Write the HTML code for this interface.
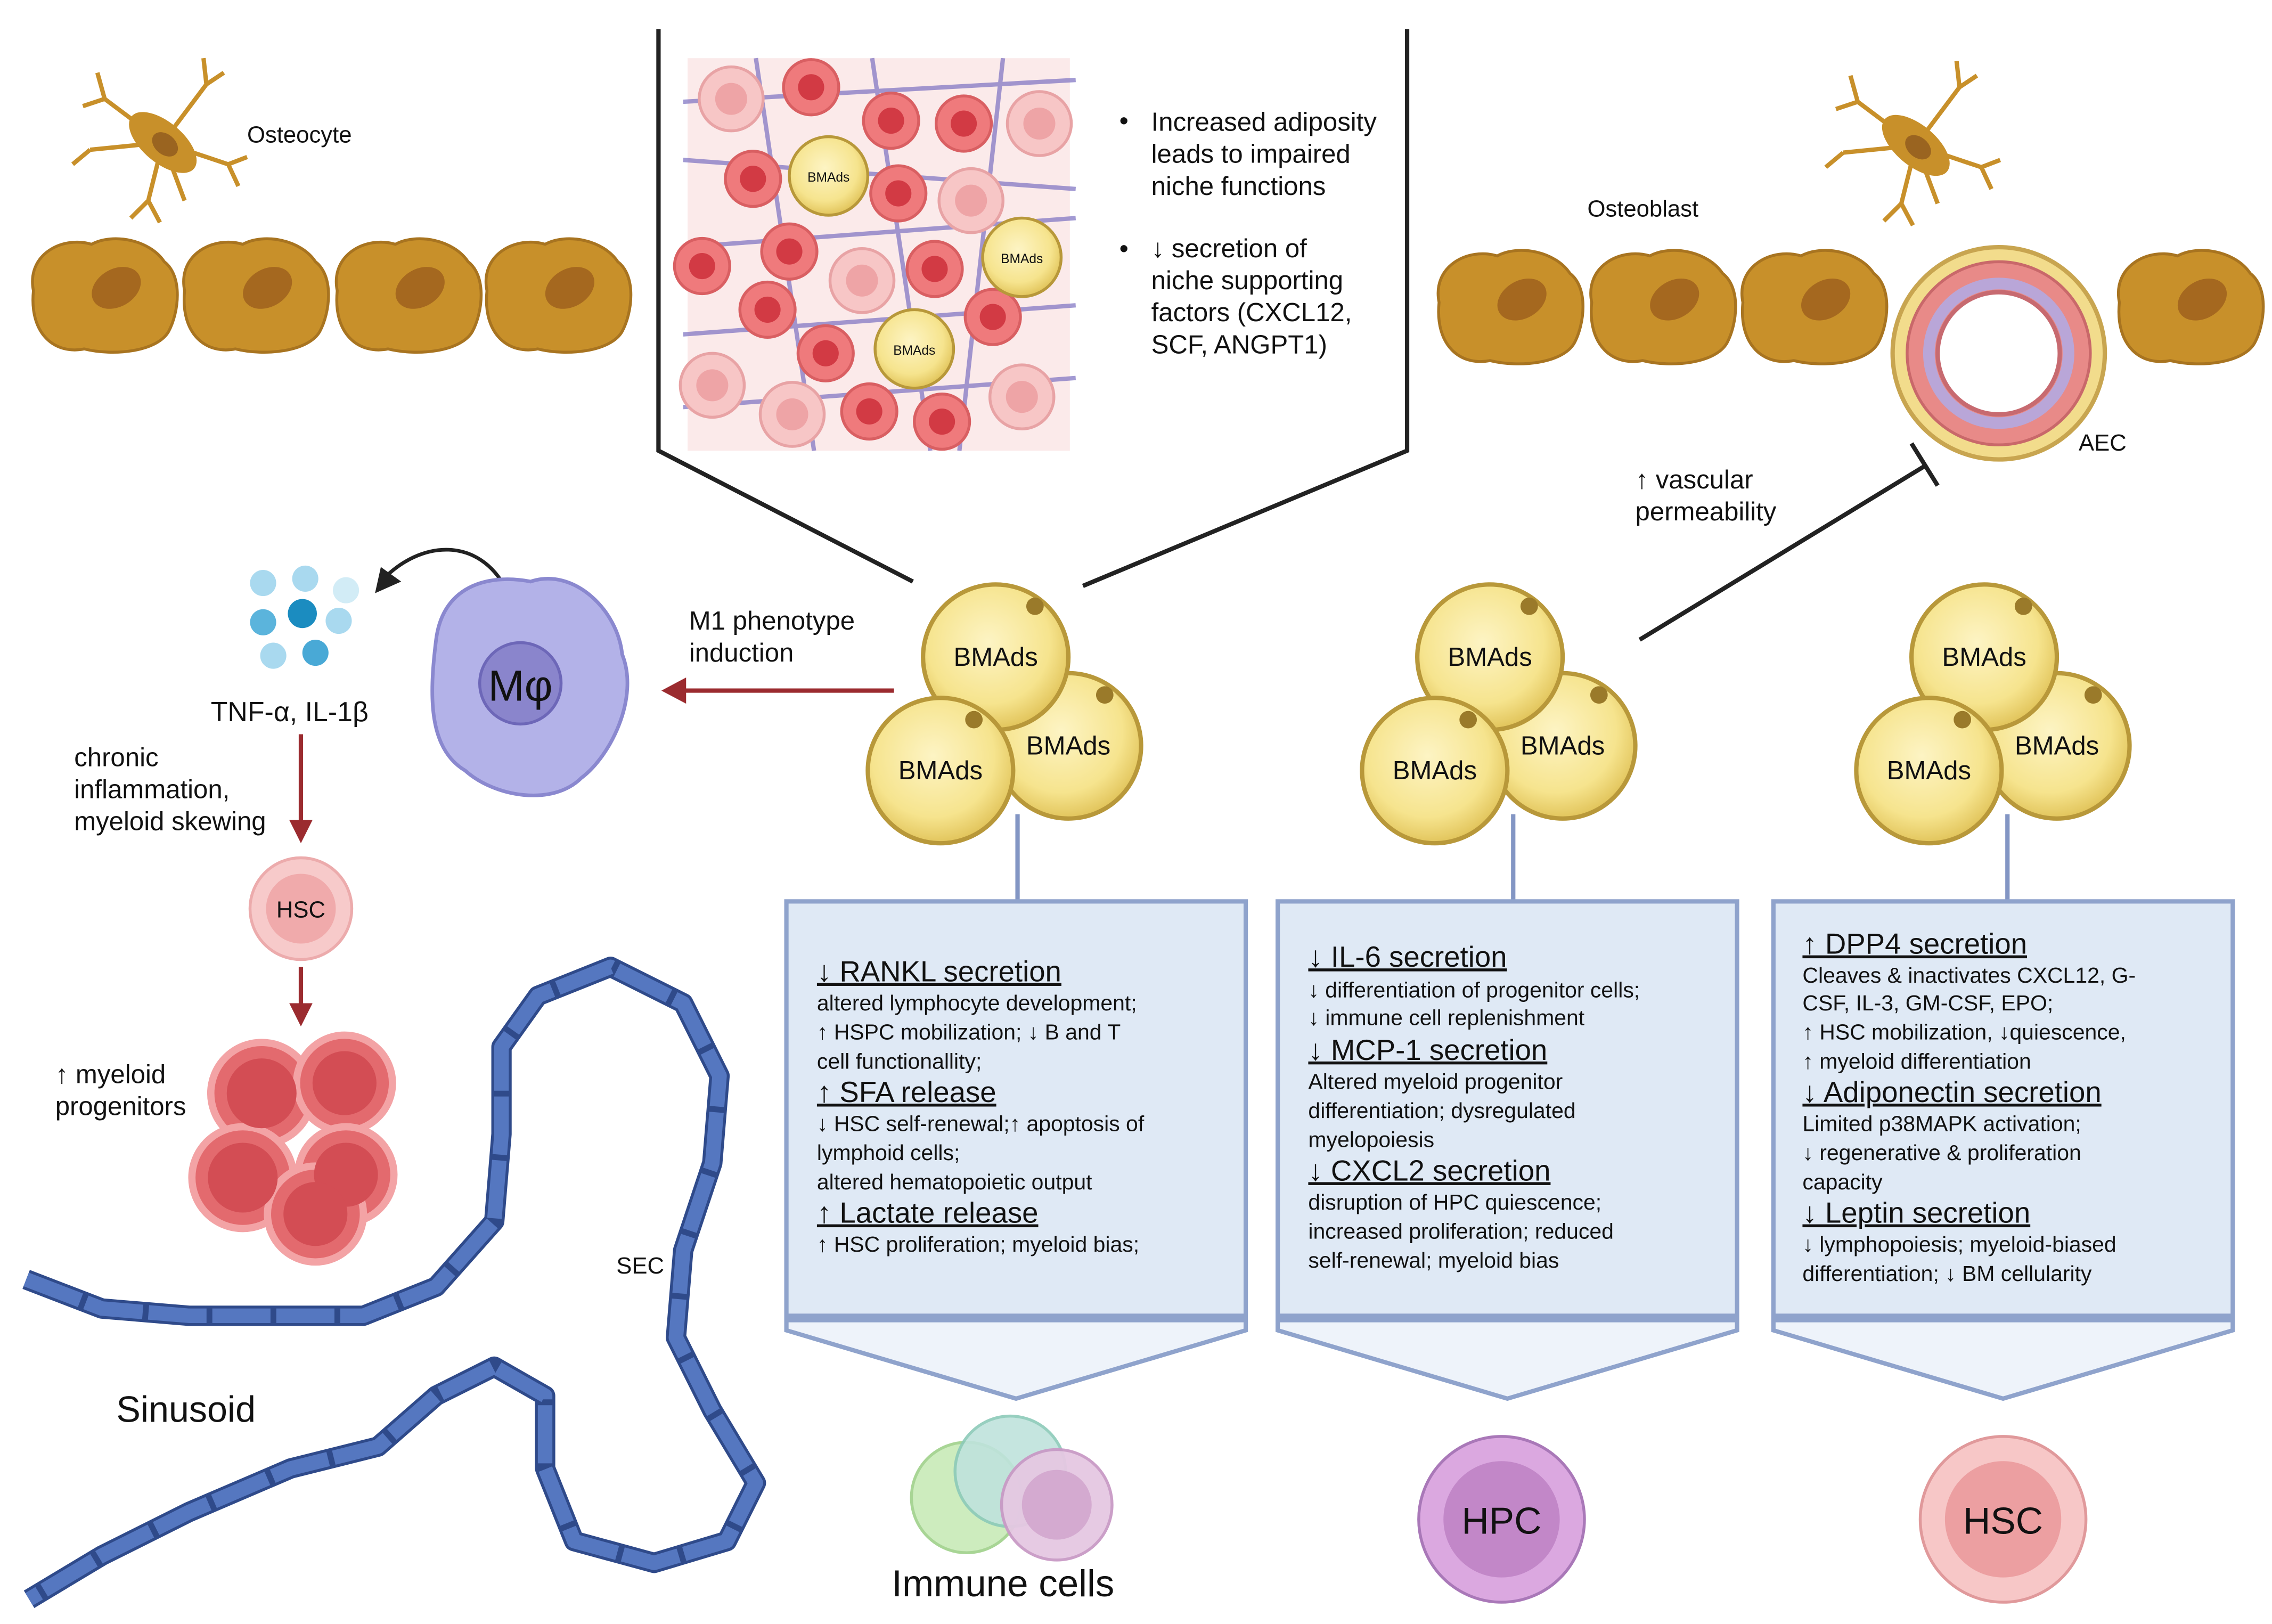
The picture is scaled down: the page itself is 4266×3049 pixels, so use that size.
<!DOCTYPE html>
<html><head><meta charset="utf-8"><style>
html,body{margin:0;padding:0;background:#fff;}
svg{display:block;}
text{font-family:"Liberation Sans",sans-serif;fill:#111;}
</style></head><body>
<svg width="4266" height="3049" viewBox="0 0 1563 1117" preserveAspectRatio="none" xmlns="http://www.w3.org/2000/svg">
<defs>
<radialGradient id="fat" cx="45%" cy="40%" r="60%"><stop offset="0" stop-color="#fdf4c4"/><stop offset="0.7" stop-color="#f6e48e"/><stop offset="1" stop-color="#e2c55c"/></radialGradient>
<g id="ob"><path d="M5,40 C0,15 25,2 45,8 C60,0 85,5 95,20 C108,30 105,55 98,68 C90,82 60,85 40,80 C20,84 2,70 5,40Z" fill="#c8902a" stroke="#a87420" stroke-width="2"/><ellipse cx="62" cy="38" rx="18" ry="13" fill="#a5681f" transform="rotate(-30 62 38)"/></g>
<g id="ocy"><g stroke="#c8902a" stroke-width="3" fill="none"><path d="M0,0 L-40,-30 M-40,-30 L-55,-25 M-40,-30 L-45,-48 M0,0 L-50,5 M-50,5 L-62,15 M0,0 L-10,40 M-10,40 L-22,52 M-10,40 L-2,55 M0,0 L30,-40 M30,-40 L42,-48 M30,-40 L28,-58 M0,0 L45,15 M45,15 L58,10 M45,15 L52,30 M0,0 L15,40"/></g><ellipse cx="0" cy="0" rx="28" ry="14" fill="#c8902a" transform="rotate(40)"/><ellipse cx="2" cy="0" rx="10" ry="7" fill="#9a6420" transform="rotate(40)"/></g>
<g id="bm"><circle cx="45" cy="23" r="50" fill="url(#fat)" stroke="#b8983a" stroke-width="3"/><circle cx="-5" cy="-38" r="50" fill="url(#fat)" stroke="#b8983a" stroke-width="3"/><circle cx="-43" cy="40" r="50" fill="url(#fat)" stroke="#b8983a" stroke-width="3"/><circle cx="22" cy="-73" r="6" fill="#9a7a2a"/><circle cx="70" cy="-12" r="6" fill="#9a7a2a"/><circle cx="-20" cy="5" r="6" fill="#9a7a2a"/>
<text x="-5" y="-32" font-size="18" text-anchor="middle">BMAds</text><text x="45" y="29" font-size="18" text-anchor="middle">BMAds</text><text x="-43" y="46" font-size="18" text-anchor="middle">BMAds</text></g>
<g id="rc"><circle r="19" fill="#ef7a7c" stroke="#d95f62" stroke-width="2"/><circle r="9" fill="#d23a44"/></g>
<g id="pc"><circle r="22" fill="#f7c6c6" stroke="#e8a3a5" stroke-width="2"/><circle r="11" fill="#eea4a6"/></g>
</defs>

<!-- left osteocyte + osteoblasts -->
<use href="#ocy" x="112" y="98"/>
<text x="170" y="98" font-size="16">Osteocyte</text>
<use href="#ob" x="18" y="160"/><use href="#ob" x="122" y="160"/><use href="#ob" x="227" y="160"/><use href="#ob" x="330" y="160"/>

<!-- center bracket -->
<polyline points="453,20 453,310 628,400" fill="none" stroke="#222" stroke-width="3"/>
<polyline points="968,20 968,310 745,403" fill="none" stroke="#222" stroke-width="3"/>
<rect x="473" y="40" width="263" height="270" fill="#fbeaea"/>
<g stroke="#7a6fc0" stroke-width="3" opacity="0.7" fill="none"><path d="M470,70 L740,55 M470,110 L740,130 M470,170 L740,150 M470,230 L740,210 M470,280 L740,260 M520,40 L560,310 M600,40 L640,310 M690,40 L660,310"/></g>
<use href="#pc" x="503" y="68"/><use href="#rc" x="558" y="60"/><use href="#rc" x="613" y="83"/><use href="#rc" x="663" y="85"/><use href="#pc" x="715" y="85"/>
<use href="#rc" x="518" y="123"/><use href="#rc" x="618" y="133"/><use href="#pc" x="668" y="138"/>
<use href="#rc" x="483" y="183"/><use href="#rc" x="543" y="173"/><use href="#pc" x="593" y="193"/><use href="#rc" x="643" y="185"/>
<use href="#rc" x="528" y="213"/><use href="#rc" x="683" y="218"/><use href="#rc" x="568" y="243"/>
<use href="#pc" x="490" y="265"/><use href="#pc" x="545" y="285"/><use href="#rc" x="598" y="283"/><use href="#rc" x="648" y="290"/><use href="#pc" x="703" y="273"/>
<circle cx="570" cy="121" r="27" fill="url(#fat)" stroke="#b8983a" stroke-width="2"/><text x="570" y="125" font-size="9" text-anchor="middle">BMAds</text>
<circle cx="703" cy="177" r="27" fill="url(#fat)" stroke="#b8983a" stroke-width="2"/><text x="703" y="181" font-size="9" text-anchor="middle">BMAds</text>
<circle cx="629" cy="240" r="27" fill="url(#fat)" stroke="#b8983a" stroke-width="2"/><text x="629" y="244" font-size="9" text-anchor="middle">BMAds</text>
<g font-size="18"><text x="770" y="89">•</text><text x="792" y="90">Increased adiposity</text><text x="792" y="112">leads to impaired</text><text x="792" y="134">niche functions</text>
<text x="770" y="177">•</text><text x="792" y="177">↓ secretion of</text><text x="792" y="199">niche supporting</text><text x="792" y="221">factors (CXCL12,</text><text x="792" y="243">SCF, ANGPT1)</text></g>

<!-- right osteoblasts, vessel -->
<use href="#ocy" x="1318" y="100"/>
<text x="1092" y="149" font-size="16">Osteoblast</text>
<use href="#ob" x="985" y="168"/><use href="#ob" x="1090" y="168"/><use href="#ob" x="1194" y="168"/><use href="#ob" x="1453" y="168"/>
<circle cx="1375" cy="243" r="73" fill="#f2dc8c" stroke="#c8a550" stroke-width="3"/>
<circle cx="1375" cy="243" r="63" fill="#e88a88" stroke="#c9686a" stroke-width="2"/>
<circle cx="1375" cy="243" r="48" fill="none" stroke="#b9a6d8" stroke-width="8"/>
<circle cx="1375" cy="243" r="42" fill="#fff" stroke="#c76a70" stroke-width="3"/>
<text x="1430" y="310" font-size="16">AEC</text>
<line x1="1128" y1="440" x2="1325" y2="320" stroke="#222" stroke-width="3"/>
<line x1="1315" y1="305" x2="1333" y2="334" stroke="#222" stroke-width="3"/>
<text x="1125" y="336" font-size="18">↑ vascular</text><text x="1125" y="358" font-size="18">permeability</text>

<!-- BMAds clusters -->
<use href="#bm" x="690" y="490"/><use href="#bm" x="1030" y="490"/><use href="#bm" x="1370" y="490"/>
<g stroke="#8396c4" stroke-width="3"><line x1="700" y1="560" x2="700" y2="620"/><line x1="1041" y1="560" x2="1041" y2="620"/><line x1="1381" y1="560" x2="1381" y2="620"/></g>

<!-- boxes -->
<g fill="#dfe9f5" stroke="#8fa3cc" stroke-width="3">
<rect x="541" y="620" width="316" height="285"/><rect x="879" y="620" width="316" height="285"/><rect x="1220" y="620" width="316" height="285"/></g>
<g fill="#eef3fa" stroke="#8fa3cc" stroke-width="3">
<polygon points="541,908 857,908 857,915 699,962 541,915"/><polygon points="879,908 1195,908 1195,915 1037,962 879,915"/><polygon points="1220,908 1536,908 1536,915 1378,962 1220,915"/></g>
<g font-size="15">
<text x="562" y="675" font-size="20" text-decoration="underline">↓ RANKL secretion</text>
<text x="562" y="695">altered lymphocyte development;</text><text x="562" y="715">↑ HSPC mobilization;  ↓ B and T</text><text x="562" y="735">cell functionallity;</text>
<text x="562" y="758" font-size="20" text-decoration="underline">↑ SFA release</text>
<text x="562" y="778">↓ HSC self-renewal;↑ apoptosis of</text><text x="562" y="798">lymphoid cells;</text><text x="562" y="818">altered hematopoietic output</text>
<text x="562" y="841" font-size="20" text-decoration="underline">↑ Lactate release</text>
<text x="562" y="861">↑ HSC proliferation; myeloid bias;</text>

<text x="900" y="665" font-size="20" text-decoration="underline">↓ IL-6 secretion</text>
<text x="900" y="686">↓ differentiation of progenitor cells;</text><text x="900" y="705">↓ immune cell replenishment</text>
<text x="900" y="729" font-size="20" text-decoration="underline">↓ MCP-1 secretion</text>
<text x="900" y="749">Altered myeloid progenitor</text><text x="900" y="769">differentiation; dysregulated</text><text x="900" y="789">myelopoiesis</text>
<text x="900" y="812" font-size="20" text-decoration="underline">↓ CXCL2 secretion</text>
<text x="900" y="832">disruption of HPC quiescence;</text><text x="900" y="852">increased proliferation; reduced</text><text x="900" y="872">self-renewal; myeloid bias</text>

<text x="1240" y="656" font-size="20" text-decoration="underline">↑ DPP4 secretion</text>
<text x="1240" y="676">Cleaves &amp; inactivates CXCL12, G-</text><text x="1240" y="695">CSF, IL-3, GM-CSF, EPO;</text><text x="1240" y="715">↑ HSC mobilization, ↓quiescence,</text><text x="1240" y="735">↑ myeloid differentiation</text>
<text x="1240" y="758" font-size="20" text-decoration="underline">↓ Adiponectin secretion</text>
<text x="1240" y="778">Limited p38MAPK activation;</text><text x="1240" y="798">↓ regenerative &amp; proliferation</text><text x="1240" y="818">capacity</text>
<text x="1240" y="841" font-size="20" text-decoration="underline">↓ Leptin secretion</text>
<text x="1240" y="861">↓ lymphopoiesis; myeloid-biased</text><text x="1240" y="881">differentiation; ↓ BM cellularity</text>
</g>

<!-- bottom cells -->
<circle cx="665" cy="1030" r="38" fill="#c8eab8" stroke="#9fd18a" stroke-width="2" opacity="0.9"/>
<circle cx="695" cy="1012" r="38" fill="#bfe3dc" stroke="#8ccab9" stroke-width="2" opacity="0.9"/>
<circle cx="727" cy="1035" r="38" fill="#e5c8e2" stroke="#c99ac6" stroke-width="2" opacity="0.95"/><circle cx="727" cy="1035" r="24" fill="#d4aad0"/>
<text x="690" y="1098" font-size="26" text-anchor="middle">Immune cells</text>
<circle cx="1033" cy="1045" r="57" fill="#dba8e0" stroke="#a978b8" stroke-width="2"/><circle cx="1033" cy="1045" r="40" fill="#c287c8"/><text x="1033" y="1055" font-size="26" text-anchor="middle">HPC</text>
<circle cx="1378" cy="1045" r="57" fill="#f7c7c7" stroke="#e0999b" stroke-width="2"/><circle cx="1378" cy="1045" r="40" fill="#ec9fa1"/><text x="1378" y="1055" font-size="26" text-anchor="middle">HSC</text>

<!-- left side -->
<g><circle cx="181" cy="401" r="9" fill="#a9d9ef"/><circle cx="210" cy="398" r="9" fill="#a9d9ef"/><circle cx="238" cy="406" r="9" fill="#d2ecf6"/><circle cx="181" cy="428" r="9" fill="#5bb4dc"/><circle cx="208" cy="422" r="10" fill="#1b8cc0"/><circle cx="233" cy="427" r="9" fill="#a9d9ef"/><circle cx="188" cy="451" r="9" fill="#a9d9ef"/><circle cx="217" cy="449" r="9" fill="#49a9d6"/></g>
<path d="M348,405 C330,370 290,370 262,400" fill="none" stroke="#222" stroke-width="2.5"/><polygon points="258,408 262,390 276,400" fill="#222"/>
<path d="M300,440 C305,400 340,395 365,400 C395,390 425,420 428,450 C440,480 420,520 400,535 C380,555 340,548 320,530 C295,515 295,480 300,440Z" fill="#b3b2e8" stroke="#8a88cf" stroke-width="2.5"/>
<circle cx="358" cy="470" r="28" fill="#8a85cc" stroke="#6d67b8" stroke-width="2"/>
<text x="358" y="482" font-size="30" text-anchor="middle">Mφ</text>
<line x1="615" y1="475" x2="470" y2="475" stroke="#9b2b2f" stroke-width="3"/><polygon points="455,475 472,466 472,484" fill="#9b2b2f"/>
<text x="474" y="433" font-size="18">M1 phenotype</text><text x="474" y="455" font-size="18">induction</text>
<text x="145" y="496" font-size="19">TNF-α, IL-1β</text>
<g font-size="18"><text x="51" y="527">chronic</text><text x="51" y="549">inflammation,</text><text x="51" y="571">myeloid skewing</text></g>
<line x1="207" y1="505" x2="207" y2="566" stroke="#9b2b2f" stroke-width="3"/><polygon points="207,580 199,564 215,564" fill="#9b2b2f"/>
<circle cx="207" cy="625" r="35" fill="#f7caca" stroke="#ecabac" stroke-width="2"/><circle cx="207" cy="625" r="24" fill="#f0aaab"/><text x="207" y="631" font-size="16" text-anchor="middle">HSC</text>
<line x1="207" y1="665" x2="207" y2="692" stroke="#9b2b2f" stroke-width="3"/><polygon points="207,706 199,690 215,690" fill="#9b2b2f"/>
<g fill="#e36a6e" stroke="#f3a3a5" stroke-width="5"><circle cx="180" cy="752" r="35"/><circle cx="237" cy="745" r="33"/><circle cx="238" cy="808" r="33"/><circle cx="167" cy="810" r="35"/><circle cx="217" cy="835" r="33"/></g>
<g fill="#d34d54"><circle cx="180" cy="752" r="24"/><circle cx="237" cy="745" r="22"/><circle cx="238" cy="808" r="22"/><circle cx="167" cy="810" r="24"/><circle cx="217" cy="835" r="22"/></g>
<text x="38" y="745" font-size="18">↑ myeloid</text><text x="38" y="767" font-size="18">progenitors</text>

<!-- sinusoid -->
<g fill="none" stroke-linejoin="round">
<path d="M18,880 L70,900 L130,905 L200,905 L250,905 L300,885 L340,840 L345,780 L345,720 L370,685 L420,665 L470,690 L495,740 L490,800 L470,860 L465,920 L490,970 L520,1020 L500,1060 L450,1075 L395,1060 L375,1010 L375,960 L340,940 L300,960 L260,995 L200,1010 L130,1040 L70,1070 L20,1100" stroke="#2f4a8a" stroke-width="14"/>
<path d="M18,880 L70,900 L130,905 L200,905 L250,905 L300,885 L340,840 L345,780 L345,720 L370,685 L420,665 L470,690 L495,740 L490,800 L470,860 L465,920 L490,970 L520,1020 L500,1060 L450,1075 L395,1060 L375,1010 L375,960 L340,940 L300,960 L260,995 L200,1010 L130,1040 L70,1070 L20,1100" stroke="#5577c0" stroke-width="10" stroke-dasharray="40 4"/>
</g>
<text x="424" y="876" font-size="16">SEC</text>
<text x="80" y="978" font-size="25">Sinusoid</text>
</svg>
</body></html>
